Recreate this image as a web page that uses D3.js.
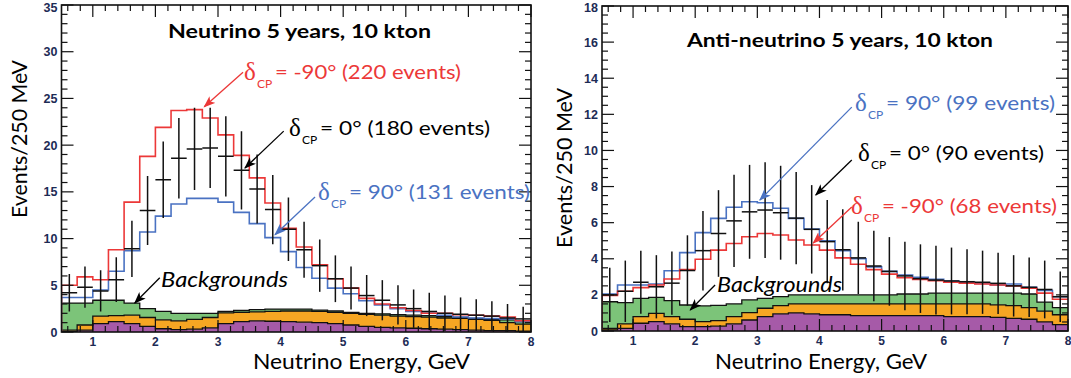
<!DOCTYPE html>
<html>
<head>
<meta charset="utf-8">
<script src="https://cdn.jsdelivr.net/npm/d3@7"></script>
<style>
  body { margin: 0; background: #fff; }
  svg { display: block; }
</style>
</head>
<body>
<svg id="chart" width="1071" height="378"></svg>
<script>
// 250 MeV bins from 0.5 to 8 GeV
const energyEdges = [0.5, 0.75, 1.0, 1.25, 1.5, 1.75, 2.0, 2.25, 2.5, 2.75, 3.0, 3.25, 3.5, 3.75, 4.0,
  4.25, 4.5, 4.75, 5.0, 5.25, 5.5, 5.75, 6.0, 6.25, 6.5, 6.75, 7.0, 7.25, 7.5, 7.75, 8.0];
const xTickLabels = [1, 2, 3, 4, 5, 6, 7, 8];

// Neutrino panel
const nuRed = [5.0, 5.9, 5.6, 8.8, 13.9, 18.8, 21.9, 23.7, 23.8, 22.9, 21.1, 18.9, 16.5, 13.8, 11.1,
  9.1, 7.2, 5.7, 4.7, 3.6, 3.0, 2.6, 2.3, 2.0, 2.0, 1.85, 1.8, 1.7, 1.6, 1.2];
const nuBlue = [3.7, 3.7, 4.5, 6.5, 8.7, 10.7, 12.4, 13.7, 14.3, 14.3, 13.9, 12.8, 11.6, 10.1, 8.6,
  6.9, 5.75, 4.7, 4.1, 3.35, 2.9, 2.5, 2.2, 2.0, 1.8, 1.6, 1.5, 1.45, 1.4, 1.1];
const nuData = [4.2, 4.8, 4.4, 5.6, 8.9, 13.0, 16.3, 18.6, 19.6, 19.7, 18.8, 17.3, 15.3, 13.1, 11.0,
  8.8, 7.1, 5.7, 4.7, 3.9, 3.4, 2.9, 2.5, 2.2, 2.0, 1.9, 1.8, 1.7, 1.5, 1.4];
const nuErr = [2.0, 2.2, 2.2, 2.4, 3.0, 3.7, 4.1, 4.3, 4.4, 4.3, 4.3, 4.2, 3.7, 3.7, 3.4,
  3.0, 2.8, 2.5, 2.3, 2.2, 2.15, 2.1, 2.05, 2.0, 1.9, 1.8, 1.7, 1.6, 1.5, 1.3];
const nuBgPurple = [0.05, 0.2, 0.9, 1.1, 0.9, 0.6, 0.35, 0.25, 0.3, 0.45, 0.9, 1.1, 1.2, 1.15, 1.1,
  1.05, 1.0, 0.9, 0.75, 0.6, 0.5, 0.45, 0.4, 0.35, 0.3, 0.25, 0.2, 0.15, 0.15, 0.1];
const nuBgOrange = [0.15, 0.55, 0.8, 0.65, 0.9, 0.95, 0.95, 0.95, 1.05, 1.1, 1.15, 1.0, 0.95, 1.05, 1.15,
  1.2, 1.2, 1.2, 1.25, 1.3, 1.3, 1.25, 1.25, 1.25, 1.2, 1.2, 1.15, 1.1, 0.85, 0.75];
const nuBgGreen = [2.9, 2.35, 1.7, 1.65, 1.3, 0.95, 0.9, 0.8, 0.65, 0.45, 0.15, 0.2, 0.25, 0.25, 0.2,
  0.2, 0.15, 0.15, 0.1, 0.1, 0.15, 0.15, 0.15, 0.15, 0.15, 0.1, 0.1, 0.1, 0.3, 0.25];
const nuYTicks = [0, 5, 10, 15, 20, 25, 30, 35];

// Anti-neutrino panel
const anuRed = [1.97, 2.2, 2.4, 2.55, 2.88, 3.41, 3.97, 4.48, 4.85, 5.22, 5.4, 5.32, 5.04, 4.76, 4.48,
  4.05, 3.7, 3.4, 3.15, 2.95, 2.85, 2.78, 2.7, 2.65, 2.6, 2.55, 2.5, 2.37, 2.1, 1.76];
const anuBlue = [2.05, 2.55, 2.55, 2.6, 3.34, 4.34, 5.45, 6.24, 6.85, 7.16, 7.1, 6.8, 6.24, 5.65, 5.0,
  4.45, 4.0, 3.55, 3.3, 3.1, 2.97, 2.86, 2.77, 2.7, 2.64, 2.55, 2.6, 2.42, 2.24, 1.9];
const anuData = [2.0, 2.2, 2.7, 2.45, 2.65, 3.35, 4.45, 5.4, 6.1, 6.6, 6.7, 6.55, 6.25, 5.63, 4.95,
  4.5, 4.05, 3.6, 3.3, 3.05, 2.9, 2.82, 2.77, 2.73, 2.7, 2.64, 2.5, 2.42, 2.3, 1.9];
const anuErr = [1.5, 1.7, 1.75, 1.75, 1.75, 1.95, 2.2, 2.4, 2.55, 2.6, 2.65, 2.6, 2.55, 2.45, 2.3,
  2.25, 2.0, 1.95, 1.9, 1.9, 1.9, 1.9, 1.85, 1.8, 1.75, 1.7, 1.7, 1.65, 1.6, 1.4];
const anuBgPurple = [0.06, 0.15, 0.43, 0.52, 0.39, 0.24, 0.24, 0.27, 0.39, 0.61, 0.8, 0.95, 1.0, 0.95, 0.9,
  0.9, 0.85, 0.85, 0.85, 0.85, 0.85, 0.85, 0.8, 0.8, 0.8, 0.75, 0.7, 0.65, 0.5, 0.35];
const anuBgOrange = [0.09, 0.24, 0.37, 0.46, 0.41, 0.41, 0.28, 0.31, 0.41, 0.41, 0.46, 0.45, 0.5, 0.55, 0.6,
  0.6, 0.65, 0.65, 0.65, 0.65, 0.65, 0.65, 0.7, 0.7, 0.7, 0.7, 0.7, 0.65, 0.6, 0.55];
const anuBgGreen = [1.47, 1.18, 1.01, 0.88, 0.88, 0.79, 0.87, 0.84, 0.7, 0.7, 0.55, 0.5, 0.5, 0.5, 0.5,
  0.5, 0.5, 0.5, 0.5, 0.55, 0.55, 0.6, 0.6, 0.6, 0.6, 0.65, 0.7, 0.75, 0.5, 0.4];
const anuYTicks = [0, 2, 4, 6, 8, 10, 12, 14, 16, 18];

const RED = "#ec3838";
const BLUE = "#4a72c2";
const GREEN = "#7cc479";
const ORANGE = "#f6a623";
const PURPLE = "#a65aa8";
const TICK_TEXT = "#1d2b55";
const SANS = "Lato, 'Open Sans', sans-serif";
const TICK_FONT = "'Liberation Sans', Arial, sans-serif";

const svg = d3.select("#chart");
const defs = svg.append("defs");

function arrowMarker(id, color) {
  defs.append("marker")
    .attr("id", id)
    .attr("viewBox", "0 -5 12 10")
    .attr("refX", 11)
    .attr("refY", 0)
    .attr("markerWidth", 12)
    .attr("markerHeight", 10)
    .attr("markerUnits", "userSpaceOnUse")
    .attr("orient", "auto")
    .append("path")
    .attr("d", "M0,-4.5L12,0L0,4.5L3,0Z")
    .attr("fill", color);
}
arrowMarker("arr-red", RED);
arrowMarker("arr-blue", BLUE);
arrowMarker("arr-black", "#000");

function drawPanel(p) {
  const x = d3.scaleLinear().domain([0.5, 8]).range([p.left, p.right]);
  const y = d3.scaleLinear().domain([0, p.yMax]).range([p.bottom, p.top]);
  const g = svg.append("g");

  defs.append("clipPath").attr("id", p.id + "-clip")
    .append("rect")
    .attr("x", p.left).attr("y", p.top)
    .attr("width", p.right - p.left).attr("height", p.bottom - p.top);
  const plot = g.append("g").attr("clip-path", `url(#${p.id}-clip)`);

  // Stacked backgrounds
  const rows = p.bgPurple.map((v, i) => ({ purple: v, orange: p.bgOrange[i], green: p.bgGreen[i] }));
  const stacked = d3.stack().keys(["purple", "orange", "green"])(rows);
  const fills = { purple: PURPLE, orange: ORANGE, green: GREEN };
  const stepArea = d3.area()
    .curve(d3.curveStepAfter)
    .x((d) => x(d.e))
    .y0((d) => y(d.lo))
    .y1((d) => y(d.hi));
  const stepLine = d3.line()
    .curve(d3.curveStepAfter)
    .x((d) => x(d.e))
    .y((d) => y(d.v));

  const withEnd = (arr) => arr.concat([{ ...arr[arr.length - 1], e: energyEdges[energyEdges.length - 1] }]);

  for (const layer of stacked) {
    const pts = withEnd(layer.map((d, i) => ({ e: energyEdges[i], lo: d[0], hi: d[1] })));
    plot.append("path")
      .attr("d", stepArea(pts))
      .attr("fill", fills[layer.key]);
  }
  for (const layer of stacked) {
    const pts = withEnd(layer.map((d, i) => ({ e: energyEdges[i], v: d[1] })));
    plot.append("path")
      .attr("d", stepLine(pts))
      .attr("fill", "none")
      .attr("stroke", "#111")
      .attr("stroke-width", 1.3);
  }

  // Signal predictions as outline histograms
  const histPts = (vals) => [{ e: energyEdges[0], v: 0 }]
    .concat(withEnd(vals.map((v, i) => ({ e: energyEdges[i], v }))));
  for (const h of p.hists) {
    plot.append("path")
      .attr("d", stepLine(histPts(h.values)))
      .attr("fill", "none")
      .attr("stroke", h.color)
      .attr("stroke-width", 1.6);
  }

  // delta_CP = 0 pseudo-data with error bars
  const pts = p.data.map((v, i) => ({ lo: energyEdges[i], hi: energyEdges[i + 1], v, err: p.err[i] }));
  const dataG = plot.append("g").attr("stroke", "#111").attr("stroke-width", 1.5);
  dataG.selectAll("line.v").data(pts).join("line")
    .attr("class", "v")
    .attr("x1", (d) => x((d.lo + d.hi) / 2))
    .attr("x2", (d) => x((d.lo + d.hi) / 2))
    .attr("y1", (d) => y(d.v - d.err))
    .attr("y2", (d) => y(d.v + d.err));
  dataG.selectAll("line.h").data(pts).join("line")
    .attr("class", "h")
    .attr("x1", (d) => x(d.lo))
    .attr("x2", (d) => x(d.hi))
    .attr("y1", (d) => y(d.v))
    .attr("y2", (d) => y(d.v));

  // Frame and ticks (inward, on all four sides)
  const ax = g.append("g").attr("stroke", "#111").attr("stroke-width", 1.2);
  const xMinor = d3.range(6, 80, 2).map((t) => t / 10).filter((t) => Math.abs(t - Math.round(t)) > 0.01);
  const yMinor = d3.range(0, p.yMax / p.yMinor + 0.5).map((k) => k * p.yMinor)
    .filter((t) => !p.yTicks.includes(t));
  const xT = xTickLabels.map((t) => ({ t, len: 12 })).concat(xMinor.map((t) => ({ t, len: 6 })));
  const yT = p.yTicks.map((t) => ({ t, len: 12 })).concat(yMinor.map((t) => ({ t, len: 6 })));
  xT.forEach(({ t, len }) => {
    ax.append("line").attr("x1", x(t)).attr("x2", x(t)).attr("y1", p.bottom).attr("y2", p.bottom - len);
    ax.append("line").attr("x1", x(t)).attr("x2", x(t)).attr("y1", p.top).attr("y2", p.top + len);
  });
  yT.forEach(({ t, len }) => {
    ax.append("line").attr("x1", p.left).attr("x2", p.left + len).attr("y1", y(t)).attr("y2", y(t));
    ax.append("line").attr("x1", p.right).attr("x2", p.right - len).attr("y1", y(t)).attr("y2", y(t));
  });
  g.append("rect")
    .attr("x", p.left).attr("y", p.top)
    .attr("width", p.right - p.left).attr("height", p.bottom - p.top)
    .attr("fill", "none").attr("stroke", "#111").attr("stroke-width", 1.6);

  // Tick labels
  g.append("g").selectAll("text").data(xTickLabels).join("text")
    .attr("x", (t) => x(t)).attr("y", p.bottom + 14)
    .attr("text-anchor", "middle")
    .attr("font-family", TICK_FONT)
    .attr("font-weight", 700).attr("font-size", 12)
    .attr("fill", TICK_TEXT)
    .text((t) => t);
  g.append("g").selectAll("text").data(p.yTicks).join("text")
    .attr("x", p.left - 4).attr("y", (t) => Math.max(y(t) + 4.5, 12))
    .attr("text-anchor", "end")
    .attr("font-family", TICK_FONT)
    .attr("font-weight", 700).attr("font-size", 12.5)
    .attr("fill", TICK_TEXT)
    .text((t) => t);

  // Axis titles
  g.append("text")
    .attr("transform", `translate(${p.yLabel.x},${p.yLabel.y}) rotate(-90)`)
    .attr("text-anchor", "middle")
    .attr("font-family", SANS).attr("font-size", 21)
    .attr("textLength", p.yLabel.len).attr("lengthAdjust", "spacingAndGlyphs")
    .text("Events/250 MeV");
  g.append("text")
    .attr("x", p.xLabel.x).attr("y", p.xLabel.y)
    .attr("font-family", SANS).attr("font-size", 21)
    .attr("textLength", p.xLabel.len).attr("lengthAdjust", "spacingAndGlyphs")
    .text("Neutrino Energy, GeV");

  // Panel title
  g.append("text")
    .attr("x", p.title.x).attr("y", p.title.y)
    .attr("font-family", SANS).attr("font-weight", 700).attr("font-size", 18)
    .attr("textLength", p.title.len).attr("lengthAdjust", "spacingAndGlyphs")
    .text(p.title.text);

  // Annotations: delta_CP labels with arrows
  for (const a of p.notes) {
    g.append("line")
      .attr("x1", x(a.from[0])).attr("y1", y(a.from[1]))
      .attr("x2", x(a.to[0])).attr("y2", y(a.to[1]))
      .attr("stroke", a.color).attr("stroke-width", 1.3)
      .attr("marker-end", `url(#${a.marker})`);
    if (a.italic) {
      g.append("text")
        .attr("x", a.lx).attr("y", a.ly)
        .attr("font-family", SANS).attr("font-style", "italic").attr("font-size", 21)
        .attr("textLength", a.len).attr("lengthAdjust", "spacingAndGlyphs")
        .attr("fill", a.color)
        .text(a.text);
      continue;
    }
    g.append("text")
      .attr("x", a.lx).attr("y", a.ly + 1)
      .attr("font-family", "'Liberation Serif', 'DejaVu Serif', serif").attr("font-size", 25)
      .attr("fill", a.color)
      .text("δ");
    g.append("text")
      .attr("x", a.lx + 13).attr("y", a.ly + 9)
      .attr("font-family", SANS).attr("font-size", 12)
      .attr("fill", a.color)
      .text("CP");
    g.append("text")
      .attr("x", a.lx + 31).attr("y", a.ly)
      .attr("font-family", SANS).attr("font-size", 20)
      .attr("textLength", a.len).attr("lengthAdjust", "spacingAndGlyphs")
      .attr("fill", a.color)
      .text(a.text);
  }
}

drawPanel({
  id: "nu", left: 61.5, right: 531, top: 5, bottom: 332, yMax: 35,
  yTicks: nuYTicks, yMinor: 1,
  hists: [{ values: nuBlue, color: BLUE }, { values: nuRed, color: RED }],
  data: nuData, err: nuErr,
  bgPurple: nuBgPurple, bgOrange: nuBgOrange, bgGreen: nuBgGreen,
  yLabel: { x: 27, y: 139, len: 158 },
  xLabel: { x: 253, y: 369, len: 217 },
  title: { x: 168, y: 38, len: 263, text: "Neutrino 5 years, 10 kton" },
  notes: [
    { color: RED, marker: "arr-red", from: [3.40, 27.8], to: [2.78, 24.1], lx: 244, ly: 79, len: 186, text: "= -90° (220 events)" },
    { color: "#000", marker: "arr-black", from: [4.05, 21.5], to: [3.43, 17.55], lx: 289, ly: 135, len: 170, text: "= 0° (180 events)" },
    { color: BLUE, marker: "arr-blue", from: [4.55, 14.45], to: [3.91, 10.4], lx: 318, ly: 199, len: 181, text: "= 90° (131 events)" },
    { color: "#000", marker: "arr-black", italic: true, from: [2.07, 5.8], to: [1.67, 3.1], lx: 161, ly: 287, len: 127, text: "Backgrounds" },
  ],
});

drawPanel({
  id: "anu", left: 602, right: 1068, top: 6, bottom: 331, yMax: 18,
  yTicks: anuYTicks, yMinor: 0.5,
  hists: [{ values: anuBlue, color: BLUE }, { values: anuRed, color: RED }],
  data: anuData, err: anuErr,
  bgPurple: anuBgPurple, bgOrange: anuBgOrange, bgGreen: anuBgGreen,
  yLabel: { x: 572, y: 168, len: 160 },
  xLabel: { x: 715, y: 369, len: 212 },
  title: { x: 687, y: 47, len: 306, text: "Anti-neutrino 5 years, 10 kton" },
  notes: [
    { color: BLUE, marker: "arr-blue", from: [4.52, 12.4], to: [3.04, 7.25], lx: 855, ly: 110, len: 169, text: "= 90° (99 events)" },
    { color: "#000", marker: "arr-black", from: [4.52, 9.47], to: [3.94, 7.53], lx: 858, ly: 160, len: 155, text: "= 0° (90 events)" },
    { color: RED, marker: "arr-red", from: [4.52, 6.87], to: [3.90, 4.87], lx: 851, ly: 213, len: 175, text: "= -90° (68 events)" },
    { color: "#000", marker: "arr-black", italic: true, from: [2.32, 2.55], to: [1.92, 1.16], lx: 717, ly: 292, len: 125, text: "Backgrounds" },
  ],
});
</script>
</body>
</html>
